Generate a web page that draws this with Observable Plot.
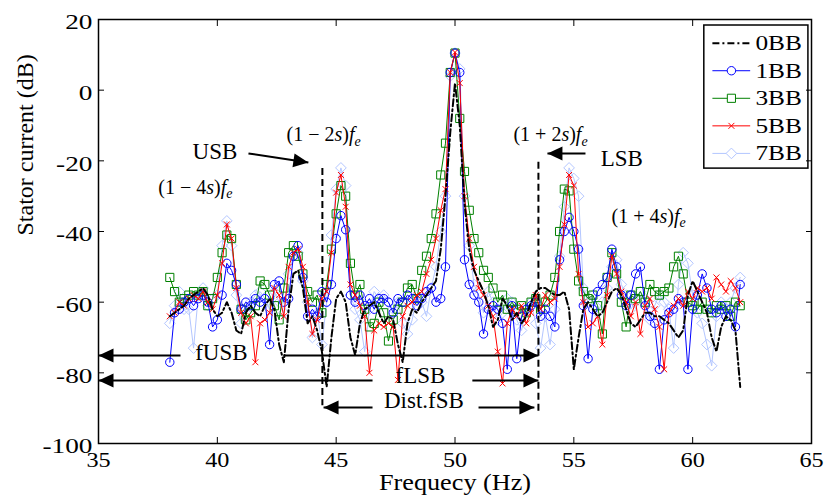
<!DOCTYPE html>
<html><head><meta charset="utf-8">
<script src="https://cdn.jsdelivr.net/npm/d3@7"></script>
<script src="https://cdn.jsdelivr.net/npm/@observablehq/plot@0.6"></script>
<style>
body{margin:0;background:#fff}
svg{display:block}
svg text, svg tspan{font-family:"Liberation Serif","DejaVu Serif",serif !important;}
</style>
</head><body><div id="chart"></div>
<script>
// ---------- data ----------
const freq = [
38.0,38.2,38.4,38.6,38.8,39.0,39.2,39.4,39.6,39.8,
40.0,40.2,40.4,40.6,40.8,41.0,41.2,41.4,41.6,41.8,
42.0,42.2,42.4,42.6,42.8,43.0,43.2,43.4,43.6,43.8,
44.0,44.2,44.4,44.6,44.8,45.0,45.2,45.4,45.6,45.8,
46.0,46.2,46.4,46.6,46.8,47.0,47.2,47.4,47.6,47.8,
48.0,48.2,48.4,48.6,48.8,49.0,49.2,49.4,49.6,49.8,
50.0,50.2,50.4,50.6,50.8,51.0,51.2,51.4,51.6,51.8,
52.0,52.2,52.4,52.6,52.8,53.0,53.2,53.4,53.6,53.8,
54.0,54.2,54.4,54.6,54.8,55.0,55.2,55.4,55.6,55.8,
56.0,56.2,56.4,56.6,56.8,57.0,57.2,57.4,57.6,57.8,
58.0,58.2,58.4,58.6,58.8,59.0,59.2,59.4,59.6,59.8,
60.0,60.2,60.4,60.6,60.8,61.0,61.2,61.4,61.6,61.8,
62.0];
const s0BB = [
-64,-63,-62,-61,-59,-58,-57,-56,-58,-62,
-64,-63,-60,-63,-68,-69,-63,-61,-63,-64,
-61,-59,-62,-72,-77,-62,-52,-51,-56,-66,
-64,-68,-74,-84,-70,-59,-57,-60,-70,-75,
-66,-62,-61,-60,-63,-66,-64,-65,-72,-77,
-66,-62,-63,-60,-58,-56,-54,-45,-30,-12,
2,-10,-32,-45,-51,-54,-57,-61,-67,-65,
-59,-61,-65,-63,-66,-64,-60,-57,-56,-56,
-57,-58,-58,-57,-62,-79,-70,-62,-60,-62,
-64,-63,-60,-57,-56,-58,-62,-66,-67,-65,
-63,-63,-64,-64,-65,-66,-68,-70,-68,-58,
-54,-57,-60,-63,-70,-74,-67,-64,-65,-68,
-84];
const s1BB = [
-77,-63,-62,-60,-59,-61,-59,-58,-60,-67,
-65,-58,-49,-51,-55,-62,-60,-61,-59,-60,
-59,-72,-55,-54,-60,-59,-47,-44,-53,-64,
-62,-64,-57,-60,-55,-42,-35.5,-39.5,-58,-60,
-58,-61,-59,-62,-59,-59,-60,-63,-59,-60,
-58,-59,-61,-59,-57,-56,-60,-59,-50,5,
10.5,5,-48,-55,-58,-60,-69,-62,-61,-62,
-66,-79,-61,-76,-64,-62,-61,-60,-64,-62,
-64,-67,-48,-40,-36,-40,-45,-61,-76,-62,
-57,-55,-53,-45,-50,-58,-61,-58,-52,-50,
-61,-64,-66,-79,-65,-63,-62,-59,-60,-79,
-62,-58,-52,-56,-62,-63,-61,-64,-62,-67,
-55];
const s3BB = [
-53,-57,-60,-59,-58,-57,-58,-57,-61,-59,
-53,-46,-41,-42,-55,-62,-65,-63,-61,-54,
-55,-58,-61,-65,-56,-46,-44,-47,-52,-57,
-60,-58,-63,-55,-45,-35,-27,-30,-49,-58,
-55,-62,-67,-66,-60,-63,-71,-65,-62,-60,
-56,-55,-59,-51,-47,-42,-35,-24,-15,5,
10.5,-8,-23,-34,-42,-46,-51,-53,-56,-60,
-58,-62,-60,-62,-61,-63,-60,-59,-62,-60,
-58,-53,-40,-28,-28.5,-45,-54,-57,-59,-58,
-61,-69,-53,-46,-52,-60,-67,-58,-59,-57,
-60,-55,-57,-58,-57,-56,-50,-47,-52,-60,
-61,-62,-60,-62,-63,-61,-62,-61,-64,-60,
-61];
const s5BB = [
-64,-63,-60,-61,-59,-58,-59,-57,-60,-62,
-58,-49,-38,-42,-56,-63,-66,-64,-77,-66,
-65,-63,-56,-58,-64,-50,-46,-45,-50,-60,
-69,-65,-59,-57,-46,-29,-24,-33,-55,-58,
-61,-64,-80,-68,-66,-67,-66,-67,-82,-64,
-61,-60,-58,-57,-52,-48,-42,-34,-28,5,
10.7,2,-30,-42,-50,-56,-58,-61,-64,-74,
-83,-66,-62,-64,-61,-66,-63,-58,-62,-58,
-60,-59,-50,-38,-24,-27,-52,-60,-67,-66,
-64,-72,-58,-47,-52,-57,-60,-64,-60,-69,
-61,-59,-62,-67,-79,-63,-61,-59,-61,-57,
-59,-56,-57,-56,-59,-53,-55,-57,-54,-56,
-60];
const s7BB = [
-66,-61,-57,-62,-62,-73,-58,-56,-61,-59,
-58,-44,-37,-44,-58,-66,-63,-60,-58,-57,
-59,-62,-57,-60,-63,-52,-47,-46,-54,-60,
-70,-63,-72,-60,-41,-28,-22,-27,-58,-62,
-65,-74,-62,-57,-59,-58,-60,-62,-60,-66,
-69,-65,-58,-60,-64,-56,-50,-40,-30,4,
10.5,6,-30,-44,-55,-58,-63,-57,-60,-65,
-63,-59,-60,-65,-68,-62,-60,-66,-73,-64,
-72,-62,-47,-33,-22,-25,-30,-56,-60,-58,
-63,-60,-56,-50,-48,-55,-58,-62,-60,-57,
-59,-65,-61,-58,-60,-62,-73,-55,-46,-49,
-58,-63,-66,-72,-78,-64,-60,-62,-60,-56,
-53];

const seriesNames = ["0BB","1BB","3BB","5BB","7BB"];
const seriesColors = ["#000000","#0000ff","#008000","#ff0000","#b3c6ff"];
const seriesSymbols = [null,"circle","square","times","diamond2"];
const seriesR = [0, 4.2, 4.6, 2.8, 4.8];
const allSeries = [s0BB, s1BB, s3BB, s5BB, s7BB];
const drawOrder = [4, 2, 1, 3, 0];

const xTicks = [35,40,45,50,55,60,65];
const yTicks = [20,0,-20,-40,-60,-80,-100];
const xTitle = "Frequecy (Hz)";
const yTitle = "Stator current (dB)";

// annotations
const annText = ["USB","LSB","fUSB","fLSB","Dist.fSB"];
const annX = [39.90, 57.02, 40.17, 48.55, 48.69];
const annY = [-17.5, -19.5, -74.4, -80.9, -88.0];
const sbText = ["(1 − 4s)f_e","(1 − 2s)f_e","(1 + 2s)f_e","(1 + 4s)f_e"];
const sbX = [39.08, 44.47, 54.02, 58.15];
const sbY = [-27.6, -12.7, -12.7, -35.8];
const markX = [44.42, 53.51];
const markTop = [-22.2, -20.4];
const markBottom = [-89.3, -91.5];
const segX1 = [35, 42.78, 35, 50.73, 44.47, 50.99, 41.31, 55.49];
const segX2 = [38.45, 53.51, 46.53, 53.51, 46.53, 53.34, 43.83, 53.89];
const segY1 = [-75.1,-75.1,-82.2,-82.2,-89.8,-89.8,-17.9,-17.9];
const segY2 = [-75.1,-75.1,-82.2,-82.2,-89.8,-89.8,-20.5,-17.9];
const headX = [35, 53.51, 35, 53.51, 44.47, 53.34, 43.83, 53.89];
const headY = [-75.1,-75.1,-82.2,-82.2,-89.8,-89.8,-20.5,-17.9];
const headAngle = [180,0,180,0,180,0,8.5,180];

// legend
const legendBoxX = [60.49, 64.87];
const legendBoxY = [18.3, -22.2];
const legendY = [13.3, 5.5, -2.3, -10.1, -17.9];
const legendLineX = [60.83, 62.42];
const legendMarkX = 61.63;
const legendTextX = 62.64;

// ---------- build ----------
const seriesRows = allSeries.map((vals) => freq.map((f, j) => ({f, v: vals[j]})));
const annRows = annText.map((t, i) => ({t, x: annX[i], y: annY[i]}));
const sbRows = sbText.map((t, i) => ({t, x: sbX[i], y: sbY[i]}));
const markRows = markX.map((x, i) => ({x, y1: markTop[i], y2: markBottom[i]}));
const segRows = segX1.map((x1, i) => ({x1, x2: segX2[i], y1: segY1[i], y2: segY2[i]}));
const headRows = headX.map((x, i) => ({x, y: headY[i], a: headAngle[i]}));
const legRows = seriesNames.map((name, i) => ({name, i, y: legendY[i], x1: legendLineX[0], x2: legendLineX[1], xm: legendMarkX, xt: legendTextX}));

const headSymbol = {draw(ctx) { ctx.moveTo(0, 0); ctx.lineTo(-15, -7); ctx.lineTo(-15, 7); ctx.closePath(); }};
const dash = "7,3,2,3";

const marks = [];
for (const i of drawOrder) {
  if (i === 0) {
    marks.push(Plot.line(seriesRows[i], {x: "f", y: "v", stroke: seriesColors[i], strokeWidth: 2, strokeDasharray: dash}));
  } else {
    marks.push(Plot.line(seriesRows[i], {x: "f", y: "v", stroke: seriesColors[i], strokeWidth: 1}));
    marks.push(Plot.dot(seriesRows[i], {x: "f", y: "v", symbol: seriesSymbols[i], r: seriesR[i], stroke: seriesColors[i], fill: "none", strokeWidth: 1}));
  }
}
marks.push(
  Plot.ruleX(markRows, {x: "x", y1: "y1", y2: "y2", stroke: "black", strokeWidth: 2, strokeDasharray: "7,4"}),
  Plot.link(segRows, {x1: "x1", x2: "x2", y1: "y1", y2: "y2", stroke: "black", strokeWidth: 2}),
  Plot.dot(headRows, {x: "x", y: "y", rotate: "a", symbol: headSymbol, fill: "black", stroke: "none", r: 5}),
  Plot.text(annRows, {x: "x", y: "y", text: "t", fontSize: 23, fill: "black"}),
  Plot.text(sbRows, {x: "x", y: "y", text: "t", fontSize: 20, fill: "black"}),
  // legend
  Plot.rect([legendBoxX], {x1: d => d[0], x2: d => d[1], y1: () => legendBoxY[0], y2: () => legendBoxY[1], fill: "white", stroke: "black", strokeWidth: 1.5}),
  Plot.link(legRows.filter(d => d.i === 0), {x1: "x1", x2: "x2", y1: "y", y2: "y", stroke: "black", strokeWidth: 2, strokeDasharray: dash}),
  Plot.link(legRows.filter(d => d.i > 0), {x1: "x1", x2: "x2", y1: "y", y2: "y", stroke: d => seriesColors[d.i], strokeWidth: 1})
);
for (let i = 1; i < 5; i++) {
  marks.push(Plot.dot(legRows.filter(d => d.i === i), {x: "xm", y: "y", symbol: seriesSymbols[i], r: seriesR[i], stroke: seriesColors[i], fill: "white", strokeWidth: 1}));
}
marks.push(
  Plot.text(legRows, {x: "xt", y: "y", text: "name", textAnchor: "start", fontSize: 22, fill: "black"}),
  // axes
  Plot.frame({stroke: "black", strokeWidth: 1.5}),
  Plot.axisX({ticks: xTicks, anchor: "bottom", tickSize: 0, tickPadding: 8, tickFormat: d => String(d), fontSize: 22, label: null}),
  Plot.axisY({ticks: yTicks, anchor: "left", tickSize: 0, tickPadding: 6, tickFormat: d => String(d), fontSize: 21, dy: 3, label: null}),
  Plot.axisX({ticks: xTicks, anchor: "bottom", tickSize: 6, dy: -6, fill: "none", label: null}),
  Plot.axisX({ticks: xTicks, anchor: "top", tickSize: 6, dy: 6, fill: "none", label: null}),
  Plot.axisY({ticks: yTicks, anchor: "left", tickSize: 6, dx: 6, fill: "none", label: null}),
  Plot.axisY({ticks: yTicks, anchor: "right", tickSize: 6, dx: -6, fill: "none", label: null}),
  Plot.text([xTitle], {frameAnchor: "bottom", lineAnchor: "bottom", dy: 46, fontSize: 23, fill: "black"}),
  Plot.text([yTitle], {frameAnchor: "left", lineAnchor: "top", rotate: -90, dx: -83, dy: 4, fontSize: 24, fill: "black"})
);

const chart = Plot.plot({
  width: 827, height: 496,
  marginLeft: 98, marginRight: 16, marginTop: 19, marginBottom: 53,
  x: {domain: [35, 65]},
  y: {domain: [-100, 20]},
  style: {fontFamily: "Liberation Serif, serif", fontSize: "21px", background: "white", color: "black", overflow: "visible"},
  marks
});
chart.setAttribute("font-family", "Liberation Serif, serif");
document.getElementById("chart").appendChild(chart);

// ---------- text styling ----------
const NS = "http://www.w3.org/2000/svg";
function richify(t) {
  const s = t.textContent; t.textContent = "";
  let buf = "";
  const flush = () => { if (buf) { t.appendChild(document.createTextNode(buf)); buf = ""; } };
  for (let k = 0; k < s.length; k++) {
    const c = s[k];
    if (c === "s" || c === "f") {
      flush(); const ts = document.createElementNS(NS, "tspan");
      ts.setAttribute("font-style", "italic"); ts.textContent = c; t.appendChild(ts);
    } else if (c === "_") {
      flush(); const ts = document.createElementNS(NS, "tspan");
      ts.setAttribute("font-style", "italic"); ts.setAttribute("font-size", "70%"); ts.setAttribute("dy", "0.3em");
      ts.textContent = s[++k]; t.appendChild(ts);
    } else buf += c;
  }
  flush();
}
function stretchT(t, k) {
  const tr = t.getAttribute("transform");
  if (tr) t.setAttribute("transform", tr + ` scale(${k},1)`);
  else {
    const x = +(t.getAttribute("x") || 0), y = +(t.getAttribute("y") || 0);
    t.removeAttribute("x"); t.removeAttribute("y");
    t.setAttribute("transform", `translate(${x},${y}) scale(${k},1)`);
  }
}
chart.querySelectorAll("text").forEach(t => {
  const s = t.textContent;
  if (s.includes("_")) richify(t);
  else if (seriesNames.includes(s)) stretchT(t, 1.15);
  else if (s === xTitle) stretchT(t, 1.14);
  else if (/^-?\d+$/.test(s)) {
    const anc = t.closest("[text-anchor]");
    const ta = t.getAttribute("text-anchor") || (anc ? anc.getAttribute("text-anchor") : "");
    stretchT(t, ta === "end" ? 1.3 : 1.1);
  }
});
</script>
</body></html>
